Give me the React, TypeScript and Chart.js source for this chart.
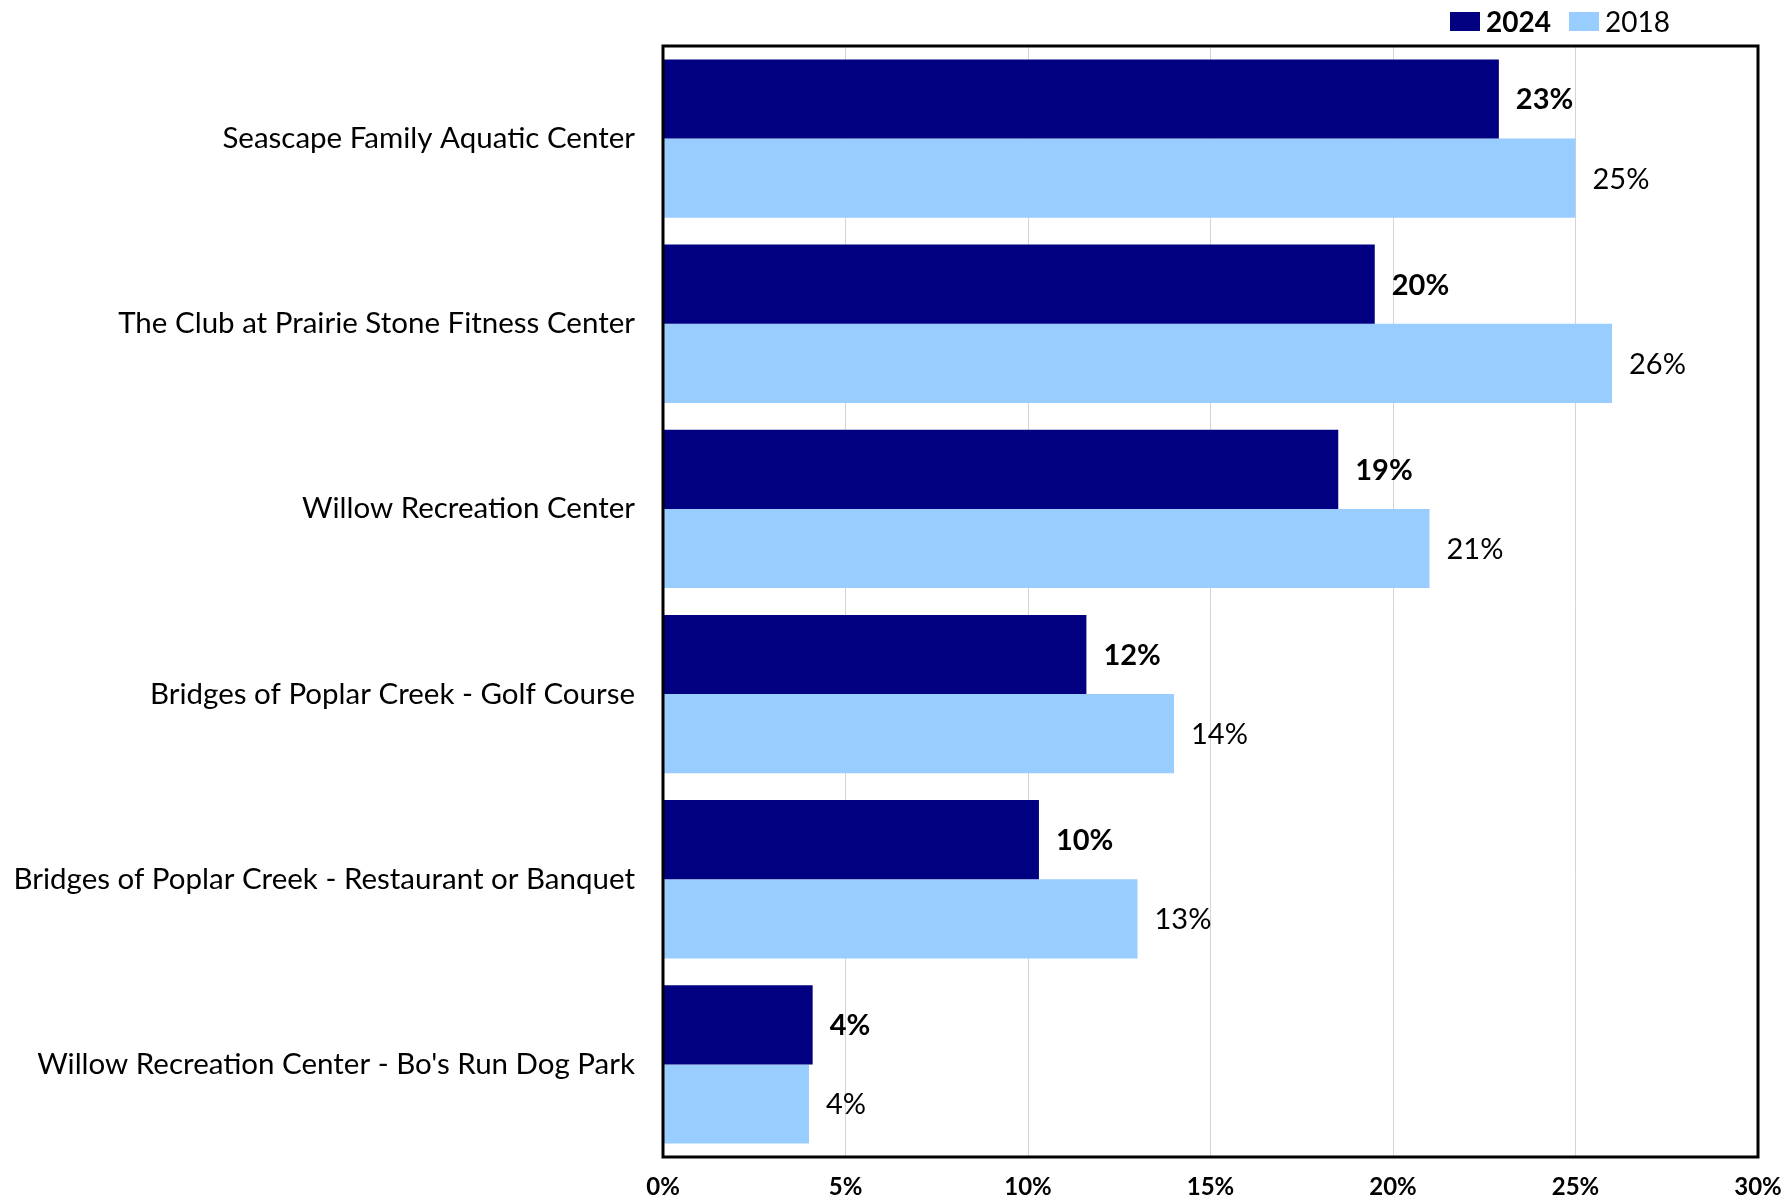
import React, { useEffect, useRef } from "react";
import { Chart, registerables } from "chart.js";

Chart.register(...registerables);

const categories = [
  "Seascape Family Aquatic Center",
  "The Club at Prairie Stone Fitness Center",
  "Willow Recreation Center",
  "Bridges of Poplar Creek - Golf Course",
  "Bridges of Poplar Creek - Restaurant or Banquet",
  "Willow Recreation Center - Bo's Run Dog Park",
];
const values2024 = [22.9, 19.5, 18.5, 11.6, 10.3, 4.1];
const values2018 = [25, 26, 21, 14, 13, 4];
const seriesNames = ["2024", "2018"];
const seriesColors = ["#000080", "#99CCFF"];

const FONT = "Lato";

export default function App() {
  const ref = useRef<HTMLCanvasElement>(null);

  useEffect(() => {
    if (!ref.current) return;
    const overlay = {
      id: "overlay",
      afterDatasetsDraw(chart: any) {
        const ctx = chart.ctx;
        chart.data.datasets.forEach((ds: any, di: number) => {
          const meta = chart.getDatasetMeta(di);
          meta.data.forEach((bar: any, i: number) => {
            const v = ds.data[i] as number;
            ctx.save();
            ctx.font = `${di === 0 ? "bold " : ""}29px ${FONT}`;
            ctx.fillStyle = "#000";
            ctx.textAlign = "left";
            ctx.textBaseline = "middle";
            ctx.fillText(Math.round(v) + "%", bar.x + 17, bar.y + 1);
            ctx.restore();
          });
        });
      },
      afterDraw(chart: any) {
        const ctx = chart.ctx;
        const { left, top, right, bottom } = chart.chartArea;
        ctx.save();
        ctx.strokeStyle = "#000";
        ctx.lineWidth = 3;
        ctx.strokeRect(left, top, right - left, bottom - top);
        // legend
        const items = [
          { x: 1450, label: seriesNames[0], color: seriesColors[0], bold: true },
          { x: 1569, label: seriesNames[1], color: seriesColors[1], bold: false },
        ];
        items.forEach((it) => {
          ctx.fillStyle = it.color;
          ctx.fillRect(it.x, 12, 30, 19);
          ctx.fillStyle = "#000";
          ctx.font = `${it.bold ? "bold " : ""}28px ${FONT}`;
          ctx.textAlign = "left";
          ctx.textBaseline = "middle";
          ctx.fillText(it.label, it.x + 36, 23);
        });
        ctx.restore();
      },
    };

    const chart = new Chart(ref.current, {
      type: "bar",
      data: {
        labels: categories,
        datasets: [
          {
            label: seriesNames[0],
            data: values2024,
            backgroundColor: seriesColors[0],
            categoryPercentage: 0.855,
            barPercentage: 1,
          },
          {
            label: seriesNames[1],
            data: values2018,
            backgroundColor: seriesColors[1],
            categoryPercentage: 0.855,
            barPercentage: 1,
          },
        ],
      },
      options: {
        indexAxis: "y",
        responsive: false,
        animation: false,
        layout: { padding: { top: 46, right: 26, left: 0, bottom: 0 } },
        plugins: {
          legend: { display: false },
          tooltip: { enabled: false },
        },
        scales: {
          x: {
            type: "linear",
            min: 0,
            max: 30,
            ticks: {
              stepSize: 5,
              callback: (v: any) => v + "%",
              font: { family: FONT, size: 24, weight: "bold" },
              color: "#000",
              padding: 16,
              maxRotation: 0,
            },
            grid: { color: "#d4d4d4", lineWidth: 1, drawTicks: false },
            border: { display: false },
            afterFit: (s: any) => {
              s.height = 47;
              s.paddingRight = 0;
              s.paddingLeft = 0;
            },
          },
          y: {
            type: "category",
            ticks: {
              font: { family: FONT, size: 29.5 },
              color: "#000",
              padding: 28,
            },
            grid: { display: false, drawTicks: false },
            border: { display: false },
            afterFit: (s: any) => {
              s.width = 663;
              s.paddingTop = 0;
              s.paddingBottom = 0;
            },
          },
        },
      },
      plugins: [overlay],
    } as any);

    return () => chart.destroy();
  }, []);

  return (
    <div style={{ position: "absolute", left: 0, top: 0, width: 1784, height: 1204, background: "#fff" }}>
      <canvas ref={ref} width={1784} height={1204} style={{ display: "block" }} />
    </div>
  );
}
